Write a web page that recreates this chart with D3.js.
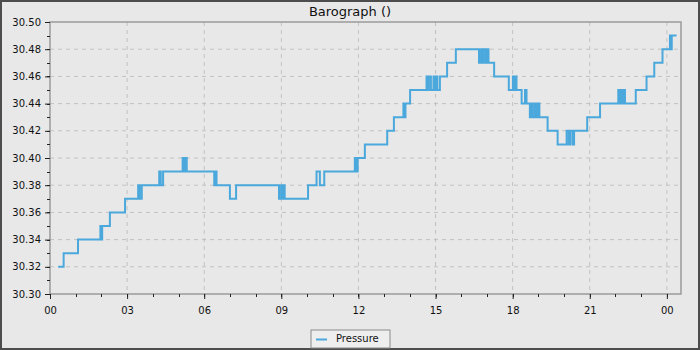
<!DOCTYPE html>
<html>
<head>
<meta charset="utf-8">
<script src="https://cdn.jsdelivr.net/npm/d3@7"></script>
<style>
  html, body { margin: 0; padding: 0; background: #e8e8e8; }
  svg { display: block; font-family: "DejaVu Sans", sans-serif; }
</style>
</head>
<body>
<svg id="chart" width="700" height="350"></svg>
<script>
// Readings: hour of day (from midnight) where the pressure changes, and the new value
const readingHours = [
  0.32, 0.53, 1.09, 1.96, 2.00, 2.03, 2.33, 2.92,
  3.43, 3.49, 3.57,
  4.25, 4.31, 4.40,
  5.16, 5.22, 5.25, 5.32, 5.38,
  6.39, 6.44, 6.48, 7.00, 7.24,
  8.91, 8.99, 9.04, 9.08, 9.13, 9.21,
  10.04, 10.37, 10.50, 10.67,
  11.86, 11.92, 11.97, 12.25, 13.12, 13.38,
  13.75, 13.79, 13.83, 14.01,
  14.65, 14.70, 14.74, 14.82, 14.92, 14.96, 15.03, 15.07, 15.17,
  15.45, 15.79,
  16.69, 16.77, 16.83, 16.88, 16.96, 17.00, 17.06,
  17.28, 17.85, 18.01, 18.06, 18.10, 18.15,
  18.35, 18.48, 18.54,
  18.67, 18.74, 18.78, 18.86, 18.92, 18.98, 19.04,
  19.36, 19.75,
  20.10, 20.18, 20.24, 20.33, 20.39, 20.45,
  20.90, 21.40,
  22.11, 22.17, 22.21, 22.27, 22.31, 22.37,
  22.79, 23.21, 23.51, 23.83,
  24.12, 24.16, 24.19, 24.38
]
const readingValues = [
  30.32, 30.33, 30.34, 30.35, 30.34, 30.35, 30.36, 30.37,
  30.38, 30.37, 30.38,
  30.39, 30.38, 30.39,
  30.40, 30.39, 30.40, 30.39, 30.39,
  30.38, 30.39, 30.38, 30.37, 30.38,
  30.37, 30.38, 30.37, 30.38, 30.37, 30.37,
  30.38, 30.39, 30.38, 30.39,
  30.40, 30.39, 30.40, 30.41, 30.42, 30.43,
  30.44, 30.43, 30.44, 30.45,
  30.46, 30.45, 30.46, 30.45, 30.46, 30.45, 30.46, 30.45, 30.46,
  30.47, 30.48,
  30.47, 30.48, 30.47, 30.48, 30.47, 30.48, 30.47,
  30.46, 30.45, 30.46, 30.45, 30.46, 30.45,
  30.44, 30.45, 30.44,
  30.43, 30.44, 30.43, 30.44, 30.43, 30.44, 30.43,
  30.42, 30.41,
  30.42, 30.41, 30.42, 30.41, 30.42, 30.42,
  30.43, 30.44,
  30.45, 30.44, 30.45, 30.44, 30.45, 30.44,
  30.45, 30.46, 30.47, 30.48,
  30.49, 30.48, 30.49, 30.49
]

const xTickHours = [0, 3, 6, 9, 12, 15, 18, 21, 24]
const xTickLabels = ["00", "03", "06", "09", "12", "15", "18", "21", "00"]
const yTickValues = [30.30, 30.32, 30.34, 30.36, 30.38, 30.40, 30.42, 30.44, 30.46, 30.48, 30.50]

const chartTitle = "Barograph ()"
const seriesName = "Pressure"

const width = 700
const height = 350
const margin = { top: 22, right: 19, bottom: 56, left: 50 }
const innerWidth = width - margin.left - margin.right
const innerHeight = height - margin.top - margin.bottom

const lineColor = "#4aa8dc"
const gridColor = "#c2c2c2"

const svg = d3.select("#chart")

// Background + outer frame
svg.append("rect")
  .attr("x", 1).attr("y", 1)
  .attr("width", width - 2).attr("height", height - 2)
  .attr("fill", "#e8e8e8")
  .attr("stroke", "#4d4d4d")
  .attr("stroke-width", 2)

svg.append("text")
  .attr("x", width / 2)
  .attr("y", 16)
  .attr("text-anchor", "middle")
  .style("font-size", "13px")
  .style("fill", "#111")
  .text(chartTitle)

const chart = svg.append("g")
  .attr("transform", `translate(${margin.left},${margin.top})`)

// Scales
const xScale = d3.scaleLinear()
  .domain([0, 24.55])
  .range([0, innerWidth])

const yScale = d3.scaleLinear()
  .domain([30.30, 30.50])
  .range([innerHeight, 0])

// Grid lines
chart.append("g")
  .attr("class", "grid")
  .selectAll("line")
  .data(yTickValues.slice(1, -1))
  .join("line")
  .attr("x1", 0).attr("x2", innerWidth)
  .attr("y1", d => yScale(d)).attr("y2", d => yScale(d))
  .attr("stroke", gridColor)
  .attr("stroke-dasharray", "4,4")

chart.append("g")
  .attr("class", "grid")
  .selectAll("line")
  .data(xTickHours.slice(1))
  .join("line")
  .attr("x1", d => xScale(d)).attr("x2", d => xScale(d))
  .attr("y1", 0).attr("y2", innerHeight)
  .attr("stroke", gridColor)
  .attr("stroke-dasharray", "4,4")

// Plot border
chart.append("rect")
  .attr("width", innerWidth)
  .attr("height", innerHeight)
  .attr("fill", "none")
  .attr("stroke", "#9a9a9a")
  .attr("stroke-width", 1.5)

// Minor ticks
const minorY = d3.range(0, 21).map(i => 30.30 + i * 0.01)
const minorX = d3.range(0, 25)

chart.append("g")
  .selectAll("line")
  .data(minorY)
  .join("line")
  .attr("x1", -3).attr("x2", 0)
  .attr("y1", d => Math.round(yScale(d)) + 0.5).attr("y2", d => Math.round(yScale(d)) + 0.5)
  .attr("stroke", "#222")

chart.append("g")
  .selectAll("line")
  .data(minorX)
  .join("line")
  .attr("x1", d => Math.round(xScale(d)) + 0.5).attr("x2", d => Math.round(xScale(d)) + 0.5)
  .attr("y1", innerHeight).attr("y2", innerHeight + 3)
  .attr("stroke", "#222")

// Axes (tick marks from d3, y labels placed in svg space)
const yAxis = d3.axisLeft(yScale)
  .tickValues(yTickValues)
  .tickFormat("")
  .tickSize(5)

chart.append("g")
  .attr("class", "y-axis")
  .call(yAxis)
  .call(g => g.select(".domain").remove())

svg.append("g")
  .attr("class", "y-labels")
  .selectAll("text")
  .data(yTickValues)
  .join("text")
  .attr("x", margin.left - 9)
  .attr("y", d => margin.top + yScale(d))
  .attr("dy", "0.35em")
  .attr("text-anchor", "end")
  .style("font-size", "10px")
  .style("fill", "#111")
  .text(d3.format(".2f"))

const xAxis = d3.axisBottom(xScale)
  .tickValues(xTickHours)
  .tickFormat((d, i) => xTickLabels[i])
  .tickSize(5)
  .tickPadding(8)

chart.append("g")
  .attr("class", "x-axis")
  .attr("transform", `translate(0,${innerHeight})`)
  .call(xAxis)
  .call(g => g.select(".domain").remove())
  .selectAll("text")
  .style("font-size", "10px")
  .style("font-family", "DejaVu Sans")
  .style("fill", "#111")

chart.selectAll(".tick line").attr("stroke", "#222")

// Pressure line
const readings = readingHours.map((h, i) => ({ hour: h, value: readingValues[i] }))

const line = d3.line()
  .x(d => xScale(d.hour))
  .y(d => yScale(d.value))
  .curve(d3.curveStepAfter)

chart.append("path")
  .datum(readings)
  .attr("fill", "none")
  .attr("stroke", lineColor)
  .attr("stroke-width", 2)
  .attr("d", line)

// Legend
const legend = svg.append("g")
  .attr("transform", "translate(311,330)")

legend.append("rect")
  .attr("width", 79)
  .attr("height", 18)
  .attr("fill", "#eeeeee")
  .attr("stroke", "#8a8a8a")

legend.append("line")
  .attr("x1", 5).attr("x2", 16)
  .attr("y1", 9.5).attr("y2", 9.5)
  .attr("stroke", lineColor)
  .attr("stroke-width", 2)

legend.append("text")
  .attr("x", 25)
  .attr("y", 12)
  .style("font-size", "10px")
  .style("fill", "#111")
  .text(seriesName)
</script>
</body>
</html>
